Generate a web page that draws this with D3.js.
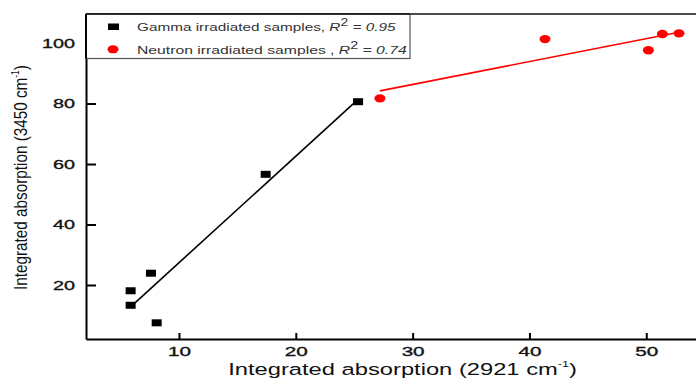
<!DOCTYPE html>
<html>
<head>
<meta charset="utf-8">
<script src="https://cdn.jsdelivr.net/npm/d3@7"></script>
<style>
  body { margin: 0; background: #fff; }
  text { font-family: "Liberation Sans", Arial, sans-serif; }
</style>
</head>
<body>
<div id="chart"></div>
<script>
// gamma irradiated samples (squares)
var gammaX = [5.86, 5.86, 7.6, 8.09, 17.42, 25.33];
var gammaY = [18.1, 13.3, 23.9, 7.5, 56.6, 80.6];
// neutron irradiated samples (circles)
var neutronX = [27.2, 41.33, 50.18, 51.38, 52.8];
var neutronY = [81.7, 101.3, 97.6, 103.0, 103.2];

var xTicks = [10, 20, 30, 40, 50];
var yTicks = [20, 40, 60, 80, 100];
var legendLabels = [
  {name: "Gamma irradiated samples, ", r2: "0.95"},
  {name: "Neutron irradiated samples , ", r2: "0.74"}
];

var W = 696, H = 388;
var svg = d3.select('#chart').append('svg')
  .attr('width', W).attr('height', H);

var x = d3.scaleLinear().domain([2.04, 54.3]).range([86, 696.5]);
var y = d3.scaleLinear().domain([2.15, 109.6]).range([339, 14]);

// least squares fit, drawn from min x to max x
function fit(xs, ys) {
  var n = xs.length, mx = d3.mean(xs), my = d3.mean(ys);
  var sxy = 0, sxx = 0;
  for (var i = 0; i < n; i++) {
    sxy += (xs[i] - mx) * (ys[i] - my);
    sxx += (xs[i] - mx) * (xs[i] - mx);
  }
  var b = sxy / sxx, a = my - b * mx;
  var x0 = d3.min(xs), x1 = d3.max(xs);
  return [[x0, a + b * x0], [x1, a + b * x1]];
}

// stretch a text element horizontally to a measured width
function fitWidth(sel, w) {
  var bw = sel.node().getBBox().width;
  return w / bw;
}

// axes
var xAxis = svg.append('g')
  .attr('transform', 'translate(0,339)')
  .call(d3.axisBottom(x).tickValues(xTicks).tickSizeInner(-6).tickSizeOuter(0).tickPadding(8));
xAxis.select('.domain').attr('stroke-width', 2);
xAxis.selectAll('.tick line').attr('stroke-width', 2);
xAxis.selectAll('text')
  .attr('font-size', 13).attr('fill', '#111')
  .attr('stroke', '#111').attr('stroke-width', 0.35)
  .attr('font-family', '"Liberation Sans", Arial, sans-serif')
  .attr('textLength', function(d) { return String(d).length * 11.5; })
  .attr('lengthAdjust', 'spacingAndGlyphs');

var yAxis = svg.append('g')
  .attr('transform', 'translate(86,0)')
  .call(d3.axisLeft(y).tickValues(yTicks).tickSizeInner(-10).tickSizeOuter(0).tickPadding(11));
yAxis.select('.domain').attr('stroke-width', 2);
yAxis.selectAll('.tick line').attr('stroke-width', 2);
yAxis.selectAll('text')
  .attr('font-size', 13).attr('fill', '#111')
  .attr('stroke', '#111').attr('stroke-width', 0.35)
  .attr('font-family', '"Liberation Sans", Arial, sans-serif')
  .attr('textLength', function(d) { return String(d).length * 11; })
  .attr('lengthAdjust', 'spacingAndGlyphs');

// top frame line
svg.append('line')
  .attr('x1', x.range()[0]).attr('x2', x.range()[1])
  .attr('y1', y.range()[1]).attr('y2', y.range()[1])
  .attr('stroke', '#111').attr('stroke-width', 1.5);

// fit lines
var lineGen = d3.line().x(d => x(d[0])).y(d => y(d[1]));
svg.append('path').datum(fit(gammaX, gammaY))
  .attr('d', lineGen).attr('fill', 'none')
  .attr('stroke', '#000').attr('stroke-width', 1.6);
svg.append('path').datum(fit(neutronX, neutronY))
  .attr('d', lineGen).attr('fill', 'none')
  .attr('stroke', '#ff0000').attr('stroke-width', 1.6);

// points
svg.selectAll('.sq').data(d3.range(gammaX.length)).enter().append('rect')
  .attr('class', 'sq')
  .attr('x', i => x(gammaX[i]) - 5)
  .attr('y', i => y(gammaY[i]) - 3.5)
  .attr('width', 10).attr('height', 7)
  .attr('fill', '#000');

svg.selectAll('.ci').data(d3.range(neutronX.length)).enter().append('ellipse')
  .attr('class', 'ci')
  .attr('cx', i => x(neutronX[i]))
  .attr('cy', i => y(neutronY[i]))
  .attr('rx', 5.5).attr('ry', 4.2)
  .attr('fill', '#ff0000');

// legend
svg.append('rect')
  .attr('x', 86).attr('y', 14).attr('width', 324).attr('height', 44.5)
  .attr('fill', '#fff').attr('stroke', '#555').attr('stroke-width', 1.2);
svg.append('line').attr('x1', 86).attr('x2', 410).attr('y1', 14).attr('y2', 14)
  .attr('stroke', '#111').attr('stroke-width', 1.5);
svg.append('line').attr('x1', 86).attr('x2', 86).attr('y1', 14).attr('y2', 58.5)
  .attr('stroke', '#000').attr('stroke-width', 2);

svg.append('rect').attr('x', 108).attr('y', 23.5).attr('width', 11).attr('height', 6.5).attr('fill', '#000');
svg.append('ellipse').attr('cx', 113).attr('cy', 49.3).attr('rx', 5.5).attr('ry', 4).attr('fill', '#ff0000');

var legendWidths = [260, 270];
var legendBase = [31, 53.5];
legendLabels.forEach(function(l, i) {
  var t = svg.append('text')
    .attr('font-size', 11).attr('fill', '#333');
  t.append('tspan').text(l.name);
  t.append('tspan').attr('font-style', 'italic').text('R');
  t.append('tspan').attr('font-size', 10).attr('dy', -5).text('2');
  t.append('tspan').attr('font-style', 'italic').attr('dy', 5).text(' = ' + l.r2);
  var s = fitWidth(t, legendWidths[i]);
  t.attr('transform', 'translate(137,' + legendBase[i] + ') scale(' + s + ',1)');
});

// x axis title
var xt = svg.append('text').attr('font-size', 17).attr('fill', '#111')
  .attr('text-anchor', 'middle');
xt.append('tspan').text('Integrated absorption (2921 cm');
xt.append('tspan').attr('font-size', 9).attr('dy', -8).text('-1');
xt.append('tspan').attr('dy', 8).text(')');
var sx = fitWidth(xt, 349);
xt.attr('transform', 'translate(402.5,375) scale(' + sx + ',1)');

// y axis title
var yt = svg.append('text').attr('font-size', 18).attr('fill', '#111')
  .attr('text-anchor', 'middle');
yt.append('tspan').text('Integrated absorption (3450 cm');
yt.append('tspan').attr('font-size', 10).attr('dy', -8).text('-1');
yt.append('tspan').attr('dy', 8).text(')');
var sy = fitWidth(yt, 225);
yt.attr('transform', 'translate(27,177.5) rotate(-90) scale(' + sy + ',1)');
</script>
</body>
</html>
